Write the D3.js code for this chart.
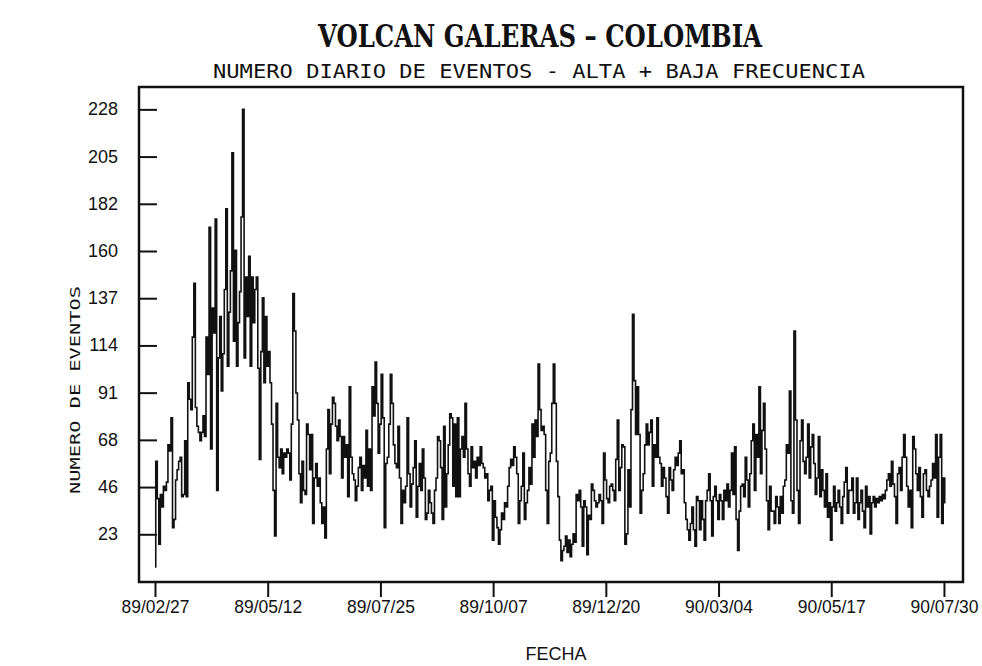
<!DOCTYPE html>
<html>
<head>
<meta charset="utf-8">
<script src="https://cdn.jsdelivr.net/npm/d3@7"></script>
<style>
  body { margin: 0; background: #fff; }
  svg { display: block; }
</style>
</head>
<body>
<div id="chart"></div>
<script>
// daily counts starting 89/02/27
var startDate = new Date(Date.UTC(1989, 1, 27));
var counts = [
  7, 58, 40, 18, 42, 36, 46, 44, 48, 66,
  63, 79, 26, 30, 49, 54, 58, 60, 41, 42,
  68, 41, 96, 88, 83, 118, 144, 84, 75, 72,
  68, 72, 80, 70, 118, 100, 171, 64, 132, 120,
  175, 44, 108, 128, 92, 110, 141, 180, 104, 130,
  150, 207, 116, 160, 104, 125, 140, 176, 228, 108,
  147, 128, 157, 104, 147, 125, 141, 147, 103, 59,
  111, 137, 96, 128, 104, 111, 96, 76, 44, 22,
  86, 60, 55, 64, 52, 62, 60, 64, 62, 49,
  76, 139, 121, 91, 78, 52, 38, 58, 44, 42,
  76, 71, 54, 71, 28, 50, 57, 46, 50, 38,
  28, 36, 21, 64, 83, 52, 76, 89, 86, 75,
  68, 78, 70, 50, 70, 60, 66, 41, 94, 60,
  52, 49, 39, 46, 55, 60, 44, 56, 50, 73,
  46, 64, 44, 94, 80, 106, 86, 62, 76, 100,
  79, 26, 57, 60, 76, 100, 86, 66, 57, 55,
  75, 50, 28, 44, 38, 46, 79, 52, 36, 47,
  55, 68, 31, 46, 57, 44, 64, 50, 30, 33,
  44, 38, 33, 28, 44, 50, 70, 68, 55, 30,
  75, 36, 52, 66, 81, 79, 46, 76, 41, 79,
  41, 64, 70, 60, 86, 64, 52, 46, 65, 55,
  58, 50, 60, 56, 65, 57, 55, 50, 52, 39,
  44, 46, 20, 39, 31, 26, 18, 25, 33, 30,
  38, 36, 46, 55, 59, 56, 65, 60, 52, 28,
  39, 46, 62, 30, 38, 44, 55, 47, 76, 60,
  78, 70, 105, 83, 73, 75, 71, 44, 28, 58,
  62, 86, 105, 86, 58, 41, 20, 10, 15, 17,
  22, 14, 20, 12, 18, 23, 19, 42, 39, 44,
  36, 17, 39, 36, 13, 32, 30, 47, 44, 39,
  36, 38, 42, 39, 28, 62, 49, 40, 38, 46,
  47, 44, 39, 59, 78, 44, 55, 66, 65, 18,
  23, 54, 36, 83, 129, 97, 71, 94, 71, 33,
  44, 52, 66, 76, 66, 72, 78, 46, 66, 60,
  79, 60, 57, 46, 55, 50, 41, 33, 55, 49,
  44, 54, 60, 56, 62, 68, 52, 54, 38, 30,
  25, 20, 28, 36, 25, 17, 41, 39, 25, 39,
  30, 20, 39, 44, 52, 39, 22, 41, 46, 39,
  30, 42, 39, 30, 44, 39, 47, 36, 44, 62,
  42, 65, 30, 15, 34, 46, 47, 41, 60, 49,
  36, 52, 68, 76, 44, 71, 60, 94, 52, 73,
  86, 64, 39, 25, 46, 34, 34, 28, 41, 36,
  28, 41, 33, 46, 49, 66, 62, 92, 39, 33,
  121, 78, 44, 28, 68, 78, 58, 52, 60, 76,
  50, 65, 71, 57, 42, 50, 70, 41, 54, 44,
  36, 52, 31, 38, 20, 36, 46, 34, 38, 44,
  36, 28, 41, 48, 55, 33, 44, 44, 50, 33,
  38, 50, 30, 38, 44, 34, 26, 46, 36, 41,
  23, 38, 41, 36, 40, 38, 41, 39, 42, 40,
  44, 49, 52, 46, 58, 47, 41, 28, 52, 55,
  44, 60, 71, 60, 46, 36, 44, 26, 70, 64,
  52, 44, 55, 41, 31, 52, 54, 44, 41, 46,
  49, 57, 50, 71, 31, 60, 71, 28, 50, 38
];
var xTickLabels = ["89/02/27", "89/05/12", "89/07/25", "89/10/07", "89/12/20", "90/03/04", "90/05/17", "90/07/30"];
var yTickValues = [22.8, 45.6, 68.4, 91.2, 114, 136.8, 159.6, 182.4, 205.2, 228];
var yTickLabels = ["23", "46", "68", "91", "114", "137", "160", "182", "205", "228"];

var svgWidth = 982, svgHeight = 666;
var box = { left: 139, right: 963, top: 87, bottom: 582 };

var parseTick = d3.utcParse("%y/%m/%d");
var data = counts.map(function(v, i) {
  return { date: d3.utcDay.offset(startDate, i), value: v };
});

var x = d3.scaleUtc()
  .domain([new Date(Date.UTC(1989, 1, 16, 12)), new Date(Date.UTC(1990, 7, 11, 12))])
  .range([box.left, box.right]);

var y = d3.scaleLinear()
  .domain([0, 238.8])
  .range([581.5, box.top]);

var svg = d3.select("#chart").append("svg")
  .attr("width", svgWidth)
  .attr("height", svgHeight);

svg.append("rect")
  .attr("width", svgWidth)
  .attr("height", svgHeight)
  .attr("fill", "#fff");

// titles
svg.append("text")
  .attr("x", 540)
  .attr("y", 47)
  .attr("text-anchor", "middle")
  .attr("font-family", "DejaVu Serif Condensed, DejaVu Serif")
  .attr("font-weight", "bold")
  .attr("font-size", 31)
  .attr("textLength", 444)
  .attr("lengthAdjust", "spacingAndGlyphs")
  .attr("fill", "#111")
  .text("VOLCAN GALERAS \u2013 COLOMBIA");

svg.append("text")
  .attr("x", 539)
  .attr("y", 78)
  .attr("text-anchor", "middle")
  .attr("font-family", "DejaVu Sans Mono")
  .attr("font-size", 19)
  .attr("textLength", 652)
  .attr("lengthAdjust", "spacingAndGlyphs")
  .attr("fill", "#111")
  .text("NUMERO DIARIO DE EVENTOS - ALTA + BAJA FRECUENCIA");

// series
svg.append("path")
  .datum(data)
  .attr("fill", "none")
  .attr("stroke", "#111")
  .attr("stroke-width", 1.6)
  .attr("d", d3.line()
    .curve(d3.curveStep)
    .x(function(d) { return x(d.date); })
    .y(function(d) { return y(d.value); }));

// y axis: ticks inside the frame
var yAxis = svg.append("g")
  .attr("transform", "translate(" + box.left + ",0)")
  .call(d3.axisRight(y)
    .tickValues(yTickValues)
    .tickSize(18)
    .tickFormat(""));
yAxis.select(".domain").remove();
yAxis.selectAll(".tick line").attr("stroke", "#111").attr("stroke-width", 2);

svg.append("g")
  .selectAll("text")
  .data(yTickValues)
  .enter().append("text")
  .attr("x", 118)
  .attr("y", function(d) { return y(d) + 6; })
  .attr("text-anchor", "end")
  .attr("font-family", "Liberation Sans Narrow, Liberation Sans")
  .attr("font-size", 18)
  .attr("fill", "#111")
  .text(function(d, i) { return yTickLabels[i]; });

// x axis: ticks below the frame
var xAxis = svg.append("g")
  .attr("transform", "translate(0," + box.bottom + ")")
  .call(d3.axisBottom(x)
    .tickValues(xTickLabels.map(parseTick))
    .tickSize(15)
    .tickPadding(3)
    .tickFormat(d3.utcFormat("%y/%m/%d")));
xAxis.select(".domain").remove();
xAxis.selectAll(".tick line").attr("stroke", "#111").attr("stroke-width", 2);
xAxis.selectAll(".tick text")
  .attr("font-family", "Liberation Sans Narrow, Liberation Sans")
  .attr("font-size", 19)
  .attr("fill", "#111")
  .attr("dy", "0.71em")
  .attr("textLength", 68)
  .attr("lengthAdjust", "spacingAndGlyphs");

// frame
svg.append("rect")
  .attr("x", box.left)
  .attr("y", box.top)
  .attr("width", box.right - box.left)
  .attr("height", box.bottom - box.top)
  .attr("fill", "none")
  .attr("stroke", "#111")
  .attr("stroke-width", 2.5);

// axis titles
svg.append("text")
  .attr("x", 556)
  .attr("y", 660)
  .attr("text-anchor", "middle")
  .attr("font-family", "Liberation Sans Narrow, Liberation Sans")
  .attr("font-size", 18)
  .attr("fill", "#111")
  .text("FECHA");

svg.append("text")
  .attr("transform", "translate(80,390) rotate(-90)")
  .attr("text-anchor", "middle")
  .attr("font-family", "DejaVu Sans Mono")
  .attr("font-size", 14)
  .attr("textLength", 208)
  .attr("lengthAdjust", "spacingAndGlyphs")
  .attr("fill", "#111")
  .text("NUMERO DE EVENTOS");
</script>
</body>
</html>
